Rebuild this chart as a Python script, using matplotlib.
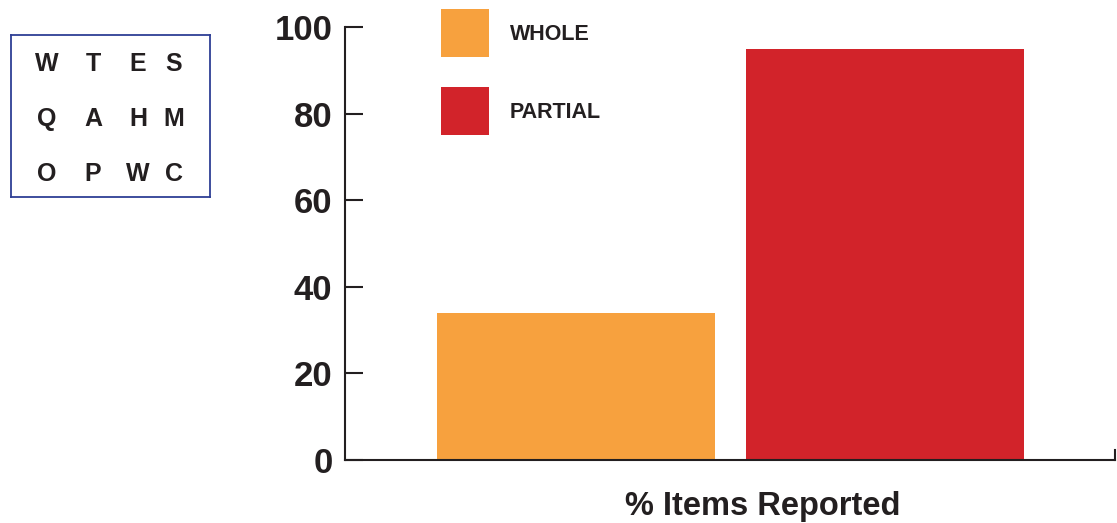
import matplotlib
matplotlib.use("Agg")
import matplotlib.pyplot as plt
from matplotlib.patches import Rectangle

# Data
categories = ["WHOLE", "PARTIAL"]
values = [34, 95]
colors = ["#F7A13E", "#D2232A"]
yticks = [0, 20, 40, 60, 80, 100]
letter_grid = [["W", "T", "E", "S"],
               ["Q", "A", "H", "M"],
               ["O", "P", "W", "C"]]
xlabel = "% Items Reported"

INK = "#231F20"
W, H = 1117, 523
plt.rcParams["font.family"] = ["Liberation Sans", "DejaVu Sans"]
plt.rcParams["font.weight"] = "bold"

fig = plt.figure(figsize=(W / 100, H / 100), dpi=100)

def fx(px):
    return px / W

def fy(py):
    return 1 - py / H

# Main bar axes
ax = fig.add_axes([fx(345), fy(460), fx(1115) - fx(345), fy(27) - fy(460)])
x = list(range(len(categories)))
ax.bar(x, values, width=0.898, color=colors)
ax.set_xlim(-0.746, 1.7415)
ax.set_ylim(0, 100)
ax.set_yticks(yticks)
ax.set_yticklabels([str(t) for t in yticks], fontsize=25, fontweight="bold", color=INK)
ax.tick_params(axis="y", direction="in", length=13, width=1.5, color=INK, pad=9)
ax.set_xticks([])
ax.spines["top"].set_visible(False)
for s in ["left", "bottom", "right"]:
    ax.spines[s].set_linewidth(1.5)
    ax.spines[s].set_color(INK)
ax.spines["right"].set_bounds(0, 2.4)
ax.spines["left"].set_bounds(0, 100)

fig.text(fx(763), fy(506), xlabel, ha="center", va="center",
         fontsize=23.5, fontweight="bold", color=INK)

# Legend drawn as swatches with labels
legend_rows = [(9, 34), (87, 112)]
for (top, ty), cat, col in zip(legend_rows, categories, colors):
    fig.add_artist(Rectangle((fx(441), fy(top + 48)), fx(48), 48 / H,
                             transform=fig.transFigure, facecolor=col,
                             edgecolor="none"))
    fig.text(fx(510), fy(ty), cat, ha="left", va="center",
             fontsize=15.5, fontweight="bold", color=INK)

# Letter array panel
box = fig.add_axes([fx(11), fy(197), fx(210) - fx(11), fy(35) - fy(197)])
box.set_xticks([])
box.set_yticks([])
for s in box.spines.values():
    s.set_color("#2E3F95")
    s.set_linewidth(1.3)
col_px = [47, 93, 138, 174]
row_px = [64, 119, 174]
for r, row in enumerate(letter_grid):
    for c, ch in enumerate(row):
        fig.text(fx(col_px[c]), fy(row_px[r]), ch, ha="center", va="center",
                 fontsize=18, fontweight="bold", color=INK)

fig.savefig("out.png", dpi=100)
